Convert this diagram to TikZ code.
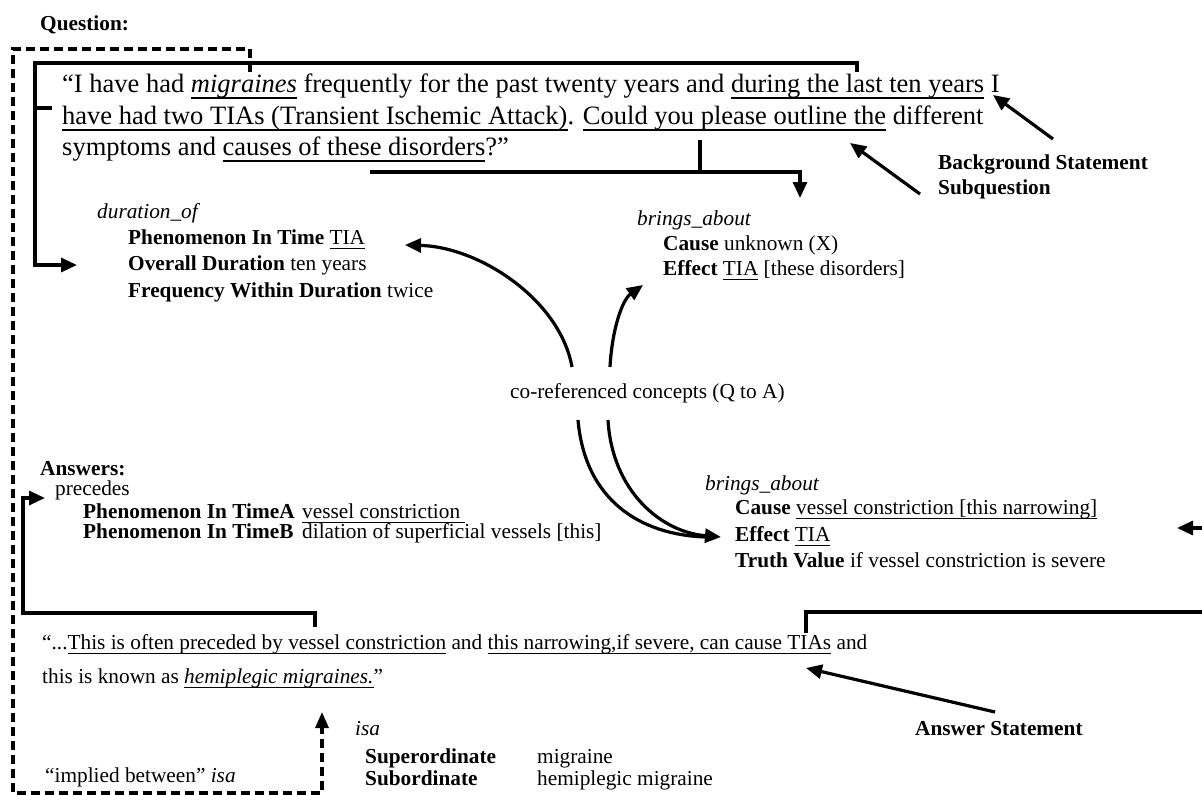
\documentclass[tikz,border=0pt]{standalone}
\usepackage{fontspec}
\setmainfont{Liberation Serif}
\usetikzlibrary{arrows.meta}
\newsavebox\ulbox
\newcommand\ul[1]{\sbox\ulbox{#1}\rlap{\rule[-0.25em]{\wd\ulbox}{0.08em}}\usebox\ulbox}
\begin{document}
\begin{tikzpicture}[x=1pt,y=-1pt,
  txt/.style={anchor=base west,inner sep=0pt,font=\fontsize{21.3}{25}\selectfont},
  qtxt/.style={anchor=base west,inner sep=0pt,font=\fontsize{26.5}{31}\selectfont},
  conn/.style={line width=3.2pt,line join=miter},
  arr/.style={conn,-{Triangle[length=16pt,width=14pt]}},
  dconn/.style={line width=3.2pt,dash pattern=on 9pt off 5pt}]
\useasboundingbox (0,0) rectangle (1202,795);

% ---------- texts ----------
\node[txt] (qlabel) at (40,30) {\textbf{Question:}};
\node[qtxt] (q1) at (62,92) {“I have had \ul{\textit{migraines}} frequently for the past twenty years and \ul{during the last ten years} I};
\node[qtxt] (q2) at (62,124) {\ul{have had two TIAs (Transient Ischemic Attack)}. \ul{Could you please outline the} different};
\node[qtxt] (q3) at (62,155) {symptoms and \ul{causes of these disorders}?”};

\node[txt] (bs) at (938,169) {\textbf{Background Statement}};
\node[txt] (sq) at (938,194) {\textbf{Subquestion}};

\node[txt] (dur) at (97,218) {\textit{duration\_of}};
\node[txt] (dur1) at (128,244) {\textbf{Phenomenon In Time} \ul{TIA}};
\node[txt] (dur2) at (128,270) {\textbf{Overall Duration} ten years};
\node[txt] (dur3) at (128,297) {\textbf{Frequency Within Duration} twice};

\node[txt] (ba) at (637,225) {\textit{brings\_about}};
\node[txt] (ba1) at (663,250) {\textbf{Cause} unknown (X)};
\node[txt] (ba2) at (663,275) {\textbf{Effect} \ul{TIA} [these disorders]};

\node[txt] (coref) at (510,398) {co-referenced concepts (Q to A)};

\node[txt] (ans) at (40,475) {\textbf{Answers:}};
\node[txt] (prec) at (55,495) {precedes};
\node[txt] (pa) at (83,518) {\textbf{Phenomenon In TimeA}};
\node[txt] (pav) at (302,518) {\ul{vessel constriction\ }};
\node[txt] (pb) at (83,538) {\textbf{Phenomenon In TimeB}};
\node[txt] (pbv) at (302,538) {dilation of superficial vessels [this]};

\node[txt] (bb) at (705,490) {\textit{brings\_about}};
\node[txt] (bb1) at (735,514) {\textbf{Cause} \ul{vessel constriction [this narrowing]}};
\node[txt] (bb2) at (735,541) {\textbf{Effect} \ul{TIA}};
\node[txt] (bb3) at (735,567) {\textbf{Truth Value} if vessel constriction is severe};

\node[txt] (a1) at (42,649) {“...\ul{This is often preceded by vessel constriction} and \ul{this narrowing,if severe, can cause TIAs} and};
\node[txt] (a2) at (42,683) {this is known as \ul{\textit{hemiplegic migraines.}}”};

\node[txt] (as) at (915,735) {\textbf{Answer Statement}};
\node[txt] (isa) at (355,735) {\textit{isa}};
\node[txt] (sup) at (365,763) {\textbf{Superordinate}};
\node[txt] (supv) at (537,763) {migraine};
\node[txt] (sub) at (365,785) {\textbf{Subordinate}};
\node[txt] (subv) at (537,785) {hemiplegic migraine};
\node[txt] (impl) at (45,782) {“implied between” \textit{isa}};

% ---------- coordinates ----------
\coordinate (d0) at (250,72);
\coordinate (d2) at (13,49);
\coordinate (d3) at (13,793);
\coordinate (d4) at (322,793);
\coordinate (d5) at (322,712);

\coordinate (s0) at (857,72);
\coordinate (s1) at (35,63);
\coordinate (s2) at (77,265);
\coordinate (t0) at (35,108);
\coordinate (t1) at (52,108);

\coordinate (b0) at (700,140);
\coordinate (bj) at (700,172);
\coordinate (b1) at (370,172);
\coordinate (b2) at (800,172);
\coordinate (b3) at (800,198);

\coordinate (bsT) at (1053,139);
\coordinate (bsH) at (993,95);
\coordinate (sqT) at (920,194);
\coordinate (sqH) at (850,143);

\coordinate (c1) at (572,367);
\coordinate (c1h) at (405,245);
\coordinate (c2) at (610,367);
\coordinate (c2h) at (643,285);
\coordinate (c3) at (578,420);
\coordinate (c4) at (608,420);
\coordinate (c3h) at (706,537);
\coordinate (c4h) at (721,537);

\coordinate (l0) at (315,627);
\coordinate (l1) at (23,613);
\coordinate (l2) at (45,498);

\coordinate (r0) at (806,633);
\coordinate (r1) at (1202,612);
\coordinate (e0) at (1202,528);
\coordinate (e1) at (1177,528);
\coordinate (asT) at (995,712);
\coordinate (asH) at (806,668);

% ---------- connectors ----------
\draw[dconn,-{Triangle[length=16pt,width=13pt]}] (d0) |- (d2) -- (d3) -- (d4) -- (d5);
\draw[arr] (s0) |- (s1) |- (s2);
\draw[conn] (t0) -- (t1);
\draw[conn] (b0) -- (bj);
\draw[arr] (b1) -- (b2) -- (b3);
\draw[arr] (bsT) -- (bsH);
\draw[arr] (sqT) -- (sqH);
\draw[arr] (c1) .. controls (560,300) and (480,247) .. (c1h);
\draw[arr] (c2) .. controls (612,330) and (622,300) .. (c2h);
\draw[conn] (c3) .. controls (585,500) and (640,535) .. (c3h);
\draw[arr] (c4) .. controls (612,490) and (660,532) .. (c4h);
\draw[arr] (l0) |- (l1) |- (l2);
\draw[conn] (r0) |- (r1);
\draw[arr] (e0) -- (e1);
\draw[arr] (asT) -- (asH);
\end{tikzpicture}
\end{document}
